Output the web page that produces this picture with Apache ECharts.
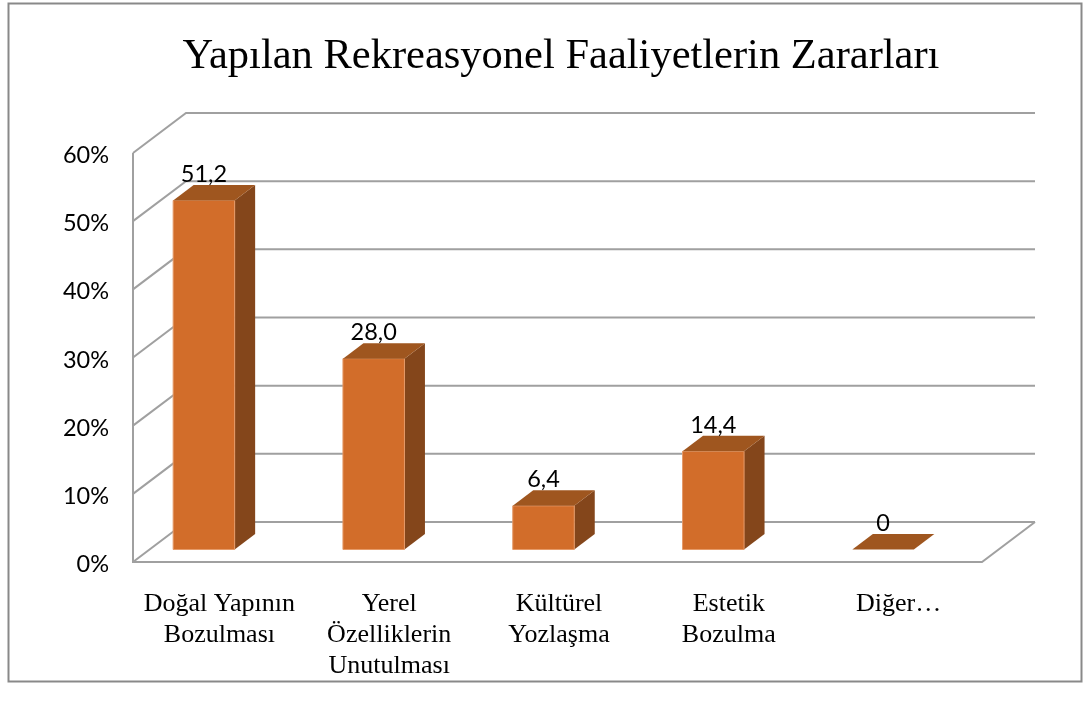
<!DOCTYPE html>
<html>
<head>
<meta charset="utf-8">
<style>html,body{margin:0;padding:0;background:#fff}#c{width:1090px;height:713px}</style>
<script src="https://cdn.jsdelivr.net/npm/echarts@6/dist/echarts.min.js"></script>
</head>
<body>
<div id="c"></div>
<script>
const titleText = 'Yapılan Rekreasyonel Faaliyetlerin Zararları';
const categories = ['Doğal Yapının\nBozulması', 'Yerel\nÖzelliklerin\nUnutulması', 'Kültürel\nYozlaşma', 'Estetik\nBozulma', 'Diğer…'];
const values = [51.2, 28.0, 6.4, 14.4, 0];
const valueLabels = ['51,2', '28,0', '6,4', '14,4', '0'];
const yTicks = [0, 10, 20, 30, 40, 50, 60];

const wallDx = 53, wallDy = -40;       // depth of the 3D box
const barDx = 20.5, barDy = -15.5;     // depth of each bar
const floorDy = -12.5, barShift = -14, barWidth = 61.5;
const gridColor = '#A0A0A0';

const chart = echarts.init(document.getElementById('c'), null, {renderer: 'canvas'});

function renderWall(params, api) {
  const tick = api.value(0);
  const left = api.coord([0, tick]);
  const cs = params.coordSys;
  const x0 = cs.x, x1 = cs.x + cs.width, y = left[1];
  const style = {stroke: gridColor, lineWidth: 2, fill: null};
  const children = [{
    type: 'polyline',
    shape: {points: [[x0, y], [x0 + wallDx, y + wallDy], [x1 + wallDx, y + wallDy]]},
    style
  }];
  if (tick === 0) {
    children.push({type: 'polyline', shape: {points: [[x0, cs.y], [x0, y], [x1, y], [x1 + wallDx, y + wallDy]]}, style});
  }
  return {type: 'group', children};
}

function renderBar(params, api) {
  const idx = api.value(0);
  const base = api.coord([idx, 0]);
  const top = api.coord([idx, api.value(1)]);
  const xl = base[0] + barShift - barWidth / 2, xr = xl + barWidth;
  const yb = base[1] + floorDy, yt = top[1] + floorDy;
  const children = [];
  if (yb - yt > 0.5) {
    children.push({
      type: 'polygon',
      shape: {points: [[xr, yb], [xr + barDx, yb + barDy], [xr + barDx, yt + barDy], [xr, yt]]},
      style: {fill: '#84461B'}
    });
    children.push({
      type: 'rect',
      shape: {x: xl, y: yt, width: barWidth, height: yb - yt},
      style: {fill: '#D26D2A', stroke: '#E59A68', lineWidth: 1}
    });
  }
  children.push({
    type: 'polygon',
    shape: {points: [[xl, yt], [xl + barDx, yt + barDy], [xr + barDx, yt + barDy], [xr, yt]]},
    style: {fill: '#9F561F'}
  });
  children.push({
    type: 'text',
    style: {
      text: valueLabels[idx], x: xl + barWidth / 2, y: yt + barDy + 1.5,
      align: 'center', verticalAlign: 'bottom',
      font: '23.5px Lato', fill: '#000'
    },
    z2: 10
  });
  return {type: 'group', children};
}

chart.setOption({
  animation: false,
  backgroundColor: '#fff',
  title: {
    text: titleText, left: 556, top: 30, textAlign: 'center',
    textStyle: {fontFamily: 'Liberation Serif', fontSize: 42.5, fontWeight: 'normal', color: '#000'}
  },
  graphic: [{
    type: 'rect', silent: true, z: -1,
    shape: {x: 8.5, y: 3.5, width: 1073, height: 678},
    style: {fill: 'none', stroke: '#898989', lineWidth: 2}
  }],
  grid: {left: 133, right: 108, top: 153, bottom: 151},
  xAxis: {
    type: 'category', data: categories,
    axisLine: {show: false}, axisTick: {show: false},
    axisLabel: {
      interval: 0, margin: 27, color: '#000', lineHeight: 31,
      fontFamily: 'Liberation Serif', fontSize: 26, padding: [0, 0, 0, 3]
    }
  },
  yAxis: {
    type: 'value', min: 0, max: 60, interval: 10,
    axisLine: {show: false}, axisTick: {show: false}, splitLine: {show: false},
    axisLabel: {formatter: '{value}%', margin: 24, color: '#000', fontFamily: 'Lato', fontSize: 23.5, verticalAlign: 'top', lineHeight: 5}
  },
  series: [
    {
      type: 'custom', z: 1, clip: false, silent: true,
      renderItem: renderWall,
      encode: {y: 0},
      data: yTicks.map(t => [t])
    },
    {
      type: 'custom', z: 2, clip: false, silent: true,
      renderItem: renderBar,
      encode: {x: 0, y: 1},
      data: values.map((v, i) => [i, v])
    }
  ]
});
</script>
</body>
</html>
